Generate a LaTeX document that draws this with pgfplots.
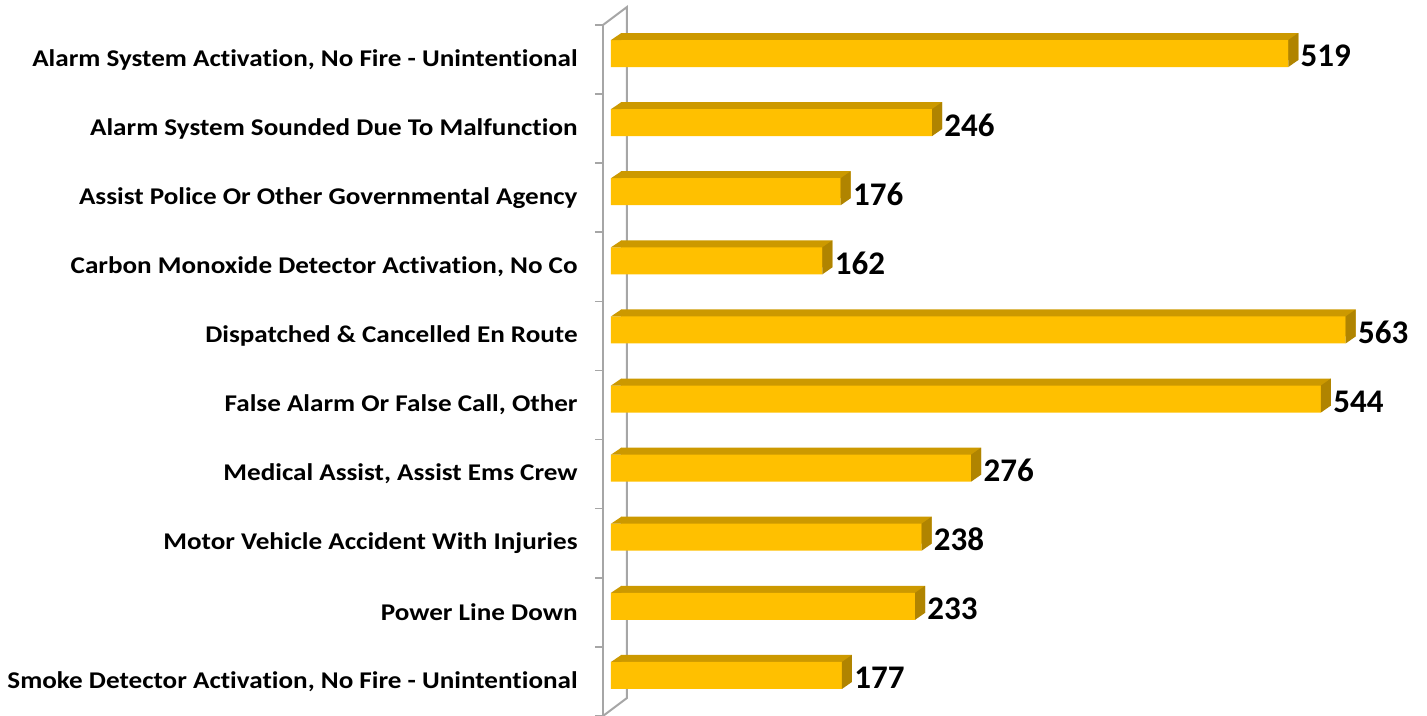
\documentclass[border=0pt]{standalone}
\usepackage{fontspec}
\setmainfont{Carlito}[Ligatures=NoCommon]
\newfontfamily\labelfont{Carlito}[FakeStretch=1.13, Ligatures=NoCommon]
\usepackage{pgfplots}
\usepackage{pgfplotstable}
\pgfplotsset{compat=1.18}
\definecolor{barfront}{RGB}{255,192,0}
\definecolor{bartop}{RGB}{204,153,0}
\definecolor{barside}{RGB}{176,132,0}
\definecolor{axisgray}{RGB}{166,166,166}
% side face of the 3D bar, drawn at (value, category)
\pgfdeclareplotmark{sideface}{%
  \pgfpathmoveto{\pgfqpoint{0pt}{-3.75pt}}%
  \pgfpathlineto{\pgfqpoint{5pt}{-0.25pt}}%
  \pgfpathlineto{\pgfqpoint{5pt}{13.25pt}}%
  \pgfpathlineto{\pgfqpoint{0pt}{9.75pt}}%
  \pgfpathclose
  \pgfusepathqfill}
% top-left corner of the top face, drawn at (0, category)
\pgfdeclareplotmark{topcorner}{%
  \pgfpathmoveto{\pgfqpoint{0pt}{9.75pt}}%
  \pgfpathlineto{\pgfqpoint{5.2pt}{9.75pt}}%
  \pgfpathlineto{\pgfqpoint{5.2pt}{13.25pt}}%
  \pgfpathclose
  \pgfusepathqfill}
\pgfplotstableread{
y v
9 519
8 246
7 176
6 162
5 563
4 544
3 276
2 238
1 233
0 177
}\data
\begin{document}
\begin{tikzpicture}
\begin{axis}[
  x=0.6525pt, y=34.55pt,
  xmin=-6.13, xmax=600, ymin=-0.5, ymax=9.5,
  enlargelimits=false, clip=false,
  axis x line=none,
  axis y line*=left,
  y axis line style={axisgray, line width=1pt},
  ytick={0,...,9},
  yticklabels={{Smoke Detector Activation, No Fire - Unintentional},
    {Power Line Down},
    {Motor Vehicle Accident With Injuries},
    {Medical Assist, Assist Ems Crew},
    {False Alarm Or False Call, Other},
    {Dispatched \& Cancelled En Route},
    {Carbon Monoxide Detector Activation, No Co},
    {Assist Police Or Other Governmental Agency},
    {Alarm System Sounded Due To Malfunction},
    {Alarm System Activation, No Fire - Unintentional}},
  minor ytick={-0.5,0.5,...,9.5},
  major tick length=0pt,
  minor tick length=4pt,
  tick align=outside,
  minor tick style={axisgray, line width=0.8pt},
  yticklabel style={font=\labelfont\bfseries\fontsize{12}{14}\selectfont, anchor=east, inner sep=0pt, xshift=-12.5pt},
  xbar, bar width=13.5pt,
]
\coordinate (O) at (axis cs:-6.13,-0.5);
\draw[axisgray, line width=1pt] (axis cs:-6.13,9.5) -- ++(12pt,9pt)
   -- ([xshift=12pt,yshift=9pt]axis cs:-6.13,-0.5) -- (axis cs:-6.13,-0.5);
% back (top face) rectangle
\addplot[xbar, draw=none, fill=bartop, bar shift=6.5pt, xshift=5pt] table[x=v, y=y] {\data};
% top-left corner of top face
\addplot[only marks, mark=topcorner, mark options={fill=bartop, draw=none}] table[x expr=0, y=y] {\data};
% side face
\addplot[only marks, mark=sideface, mark options={fill=barside, draw=none}] table[x=v, y=y] {\data};
% front face
\addplot[xbar, draw=none, fill=barfront, bar shift=3pt,
  point meta=x, nodes near coords,
  every node near coord/.append style={font=\bfseries\fontsize{16.5}{18}\selectfont, /pgf/number format/assume math mode=true, anchor=west, inner sep=0pt, xshift=6pt, yshift=-1.2pt}]
  table[x=v, y=y] {\data};
\end{axis}
\pgfresetboundingbox
\path[use as bounding box] ([xshift=-301.5pt]O) rectangle ([xshift=412pt,yshift=358pt]O);
\end{tikzpicture}
\end{document}
